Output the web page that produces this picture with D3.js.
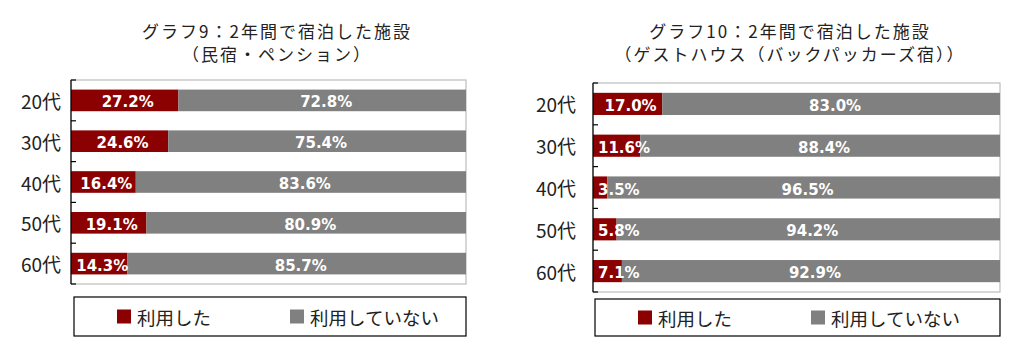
<!DOCTYPE html>
<html>
<head>
<meta charset="utf-8">
<script src="https://cdn.jsdelivr.net/npm/d3@7"></script>
<style>
  html, body { margin: 0; padding: 0; background: #fff; }
  svg { display: block; }
</style>
</head>
<body>
<svg id="chart" width="1024" height="361"></svg>
<script>
// ---- data ----
const categories = ["20代", "30代", "40代", "50代", "60代"];
const seriesNames = ["利用した", "利用していない"];
const title9 = ["グラフ9：2年間で宿泊した施設", "（民宿・ペンション）"];
const used9 = [27.2, 24.6, 16.4, 19.1, 14.3];
const notUsed9 = [72.8, 75.4, 83.6, 80.9, 85.7];
const title10 = ["グラフ10：2年間で宿泊した施設", "（ゲストハウス（バックパッカーズ宿））"];
const used10 = [17.0, 11.6, 3.5, 5.8, 7.1];
const notUsed10 = [83.0, 88.4, 96.5, 94.2, 92.9];

const colors = ["#8b0000", "#808080"];
const jpFont = "'Noto Sans CJK JP', 'Noto Sans', sans-serif";
const numFont = "'DejaVu Sans', sans-serif";

const svg = d3.select("#chart");

function drawChart(opt) {
  const { titleLines, used, notUsed, plot, titleX, legendBox, catRight } = opt;
  const g = svg.append("g");

  // title
  g.selectAll("text.title").data(titleLines).join("text")
    .attr("class", "title")
    .attr("x", titleX)
    .attr("y", (d, i) => 38 + i * 23)
    .attr("text-anchor", "middle")
    .attr("font-family", jpFont)
    .attr("font-size", 17)
    .attr("letter-spacing", "2px")
    .attr("fill", "#222")
    .text(d => d);

  const x = d3.scaleLinear().domain([0, 100]).range([plot.x0, plot.x1]);
  const y = d3.scaleBand().domain(categories).range([plot.y0, plot.y1]).paddingInner(0.47).paddingOuter(0.235);

  // plot border
  g.append("rect")
    .attr("x", plot.x0).attr("y", plot.y0)
    .attr("width", plot.x1 - plot.x0).attr("height", plot.y1 - plot.y0)
    .attr("fill", "none").attr("stroke", "#bdbdbd").attr("stroke-width", 1.2);

  const rows = categories.map((c, i) => ({ cat: c, vals: [used[i], notUsed[i]] }));
  const stacked = [];
  rows.forEach(r => {
    let acc = 0;
    r.vals.forEach((v, k) => {
      stacked.push({ cat: r.cat, k, v, start: acc, end: acc + v });
      acc += v;
    });
  });

  g.selectAll("rect.bar").data(stacked).join("rect")
    .attr("class", "bar")
    .attr("x", d => x(d.start))
    .attr("y", d => y(d.cat))
    .attr("width", d => x(d.end) - x(d.start))
    .attr("height", y.bandwidth())
    .attr("fill", d => colors[d.k]);

  // labels
  const fs = 15;
  const labels = g.selectAll("text.lbl").data(stacked).join("text")
    .attr("class", "lbl")
    .attr("font-family", numFont)
    .attr("font-weight", "bold")
    .attr("font-size", fs)
    .attr("fill", "#fff")
    .attr("text-anchor", "middle")
    .attr("dominant-baseline", "central")
    .attr("y", d => y(d.cat) + y.bandwidth() / 2 + 2)
    .text(d => d.v.toFixed(1) + "%");
  labels.attr("x", function (d) {
    const w = this.getComputedTextLength();
    const c = (x(d.start) + x(d.end)) / 2 + (d.k === 0 ? 3 : 4);
    return d.k === 0 ? Math.max(c, plot.x0 + 5 + w / 2) : c;
  });

  // y axis
  const ax = g.append("g").attr("transform", `translate(${plot.x0},0)`);
  ax.append("line").attr("x1", 0).attr("x2", 0).attr("y1", plot.y0).attr("y2", plot.y1)
    .attr("stroke", "#000").attr("stroke-width", 1.2);
  // ticks at band boundaries, pointing inward
  const bounds = d3.range(categories.length + 1).map(i => plot.y0 + i * (plot.y1 - plot.y0) / categories.length);
  ax.selectAll("line.tk").data(bounds).join("line")
    .attr("class", "tk")
    .attr("x1", 0).attr("x2", 5)
    .attr("y1", d => d).attr("y2", d => d)
    .attr("stroke", "#000").attr("stroke-width", 1.2);

  g.selectAll("text.cat").data(categories).join("text")
    .attr("class", "cat")
    .attr("x", catRight)
    .attr("y", d => y(d) + y.bandwidth() / 2)
    .attr("text-anchor", "end")
    .attr("dominant-baseline", "central")
    .attr("font-family", jpFont)
    .attr("font-size", 19)
    .attr("fill", "#222")
    .text(d => d);

  // legend
  const lg = g.append("g");
  lg.append("rect")
    .attr("x", legendBox.x).attr("y", legendBox.y)
    .attr("width", legendBox.w).attr("height", legendBox.h)
    .attr("fill", "#fff").attr("stroke", "#000").attr("stroke-width", 1.2);
  const offs = [43, 216];
  seriesNames.forEach((name, k) => {
    const lx = legendBox.x + offs[k];
    const cy = legendBox.y + legendBox.h / 2;
    lg.append("rect").attr("x", lx).attr("y", cy - 7).attr("width", 14).attr("height", 14).attr("fill", colors[k]);
    lg.append("text").attr("x", lx + 20).attr("y", cy)
      .attr("dominant-baseline", "central")
      .attr("font-family", jpFont).attr("font-size", 18.5).attr("fill", "#222")
      .text(name);
  });
}

drawChart({
  titleLines: title9, used: used9, notUsed: notUsed9,
  plot: { x0: 71, x1: 466, y0: 80, y1: 284 },
  titleX: 277, catRight: 61,
  legendBox: { x: 74, y: 297, w: 392, h: 39 }
});
drawChart({
  titleLines: title10, used: used10, notUsed: notUsed10,
  plot: { x0: 593, x1: 1000, y0: 83, y1: 292 },
  titleX: 790, catRight: 576,
  legendBox: { x: 595, y: 299, w: 405, h: 37 }
});
</script>
</body>
</html>
